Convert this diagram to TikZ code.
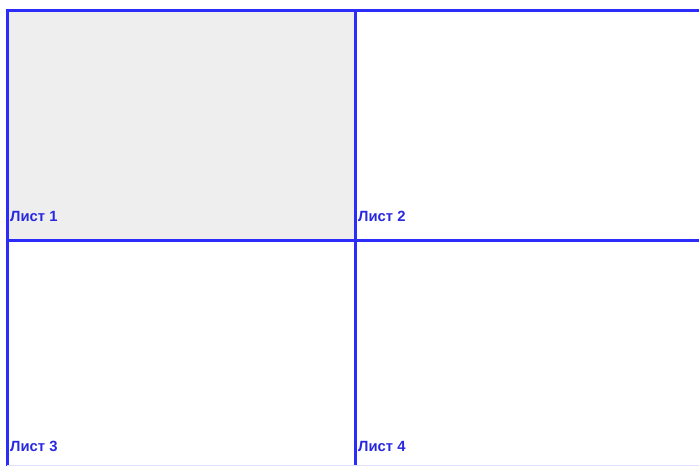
\documentclass[tikz,border=0pt]{standalone}
\usepackage{fontspec}
\setmainfont{Liberation Sans}
\usetikzlibrary{positioning}
\definecolor{sheetblue}{RGB}{45,45,250}
\definecolor{labelblue}{RGB}{40,40,225}
\definecolor{sheetgrey}{RGB}{238,238,238}

\begin{document}
\begin{tikzpicture}[
  x=1pt, y=-1pt,
  frame/.style={draw=sheetblue, line width=3pt},
  label/.style={anchor=base west, inner sep=0pt, text=labelblue, font=\fontsize{14.8}{16}\selectfont\bfseries}
]
\useasboundingbox (0,0) rectangle (699,466);
\fill[sheetgrey] (7,10) rectangle (355,240);
\draw[frame] (7,470) -- (7,10) -- (703,10);
\draw[frame] (7,240) -- (703,240);
\draw[frame] (355,10) -- (355,470);
\draw[draw=sheetblue!15, line width=2pt] (7,466) -- (703,466);
\node[label] (list1) at (10,221) {Лист 1};
\node[label] (list2) at (358,221) {Лист 2};
\node[label] (list3) at (10,451) {Лист 3};
\node[label] (list4) at (358,451) {Лист 4};
\end{tikzpicture}
\end{document}
